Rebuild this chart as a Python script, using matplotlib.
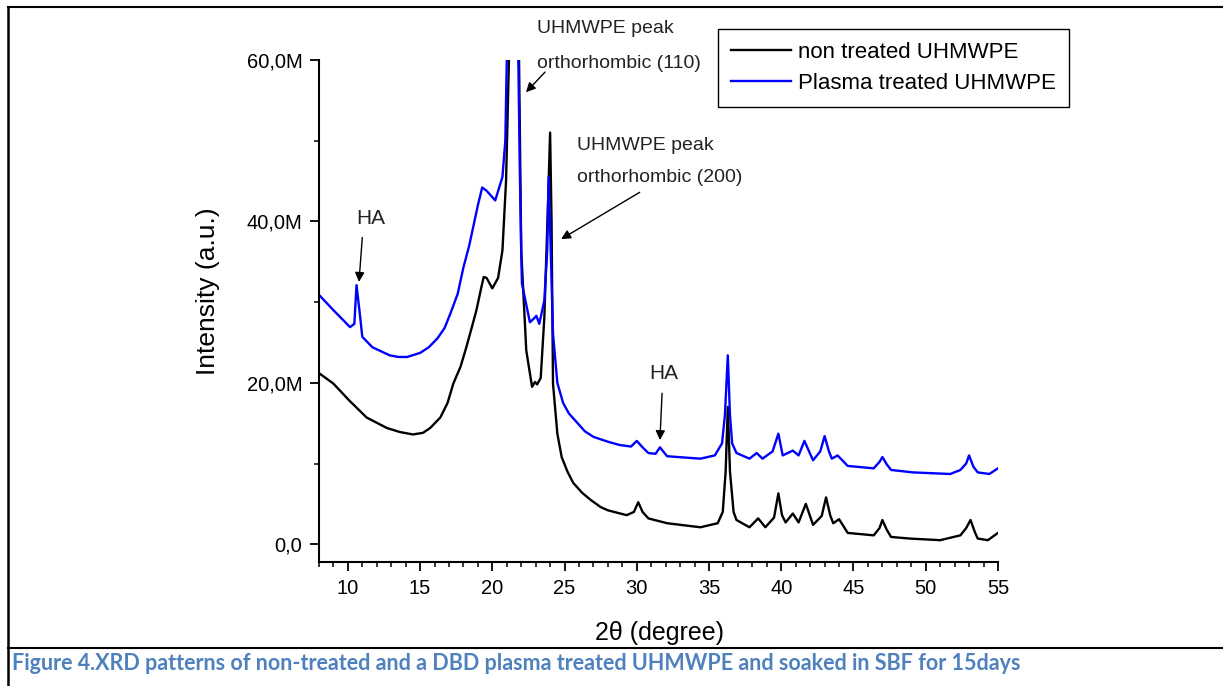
import matplotlib
matplotlib.use("Agg")
import numpy as np
from matplotlib import pyplot as plt
from matplotlib.lines import Line2D
from matplotlib.ticker import FuncFormatter, MultipleLocator, FixedLocator

plt.rcParams["font.family"] = ["Liberation Sans", "DejaVu Sans"]

# 2theta (degree) and intensity (millions of counts)
untreated_x = [8, 9, 10.1, 11.3, 12.7, 13.6, 14.5, 15.2, 15.7, 16.4, 16.9, 17.3, 17.8, 18.2,
               18.6, 18.9, 19.2, 19.4, 19.6, 20.0, 20.4, 20.7, 20.95, 21.15, 21.5, 21.85,
               22.0, 22.35, 22.75, 22.95, 23.1, 23.35, 23.6, 23.85, 24.0, 24.1, 24.2, 24.5,
               24.8, 25.2, 25.6, 26.2, 26.8, 27.5, 28.0, 29.3, 29.8, 30.1, 30.4, 30.8,
               32.1, 34.4, 35.6, 35.95, 36.15, 36.3, 36.45, 36.7, 36.9, 37.8, 38.4, 38.9,
               39.5, 39.8, 40.05, 40.3, 40.8, 41.2, 41.7, 42.2, 42.8, 43.1, 43.4, 43.6,
               44.0, 44.6, 46.4, 46.8, 47.0, 47.3, 47.6, 48.9, 51.0, 52.4, 52.8, 53.1,
               53.4, 53.6, 54.3, 55.0]
untreated_y = [21.2, 19.9, 17.8, 15.7, 14.4, 13.9, 13.6, 13.8, 14.4, 15.7, 17.5, 19.9, 22.0,
               24.4, 27.0, 29.0, 31.5, 33.1, 33.0, 31.7, 33.0, 36.4, 45.0, 60.0, 78.0,
               60.0, 36.4, 24.0, 19.5, 20.1, 19.8, 20.6, 28.1, 42.0, 51.0, 40.0, 19.9,
               13.7, 10.8, 9.0, 7.6, 6.4, 5.5, 4.6, 4.2, 3.6, 4.0, 5.2, 4.0, 3.2,
               2.6, 2.1, 2.6, 4.0, 9.0, 17.0, 9.0, 4.0, 3.0, 2.1, 3.2, 2.1,
               3.3, 6.3, 3.6, 2.7, 3.8, 2.7, 5.0, 2.4, 3.5, 5.8, 3.5, 2.6,
               3.1, 1.4, 1.1, 2.0, 3.0, 1.8, 0.9, 0.7, 0.5, 1.1, 2.0, 3.0,
               1.5, 0.7, 0.5, 1.4]

plasma_x = [8, 9.0, 10.15, 10.45, 10.6, 10.8, 11.0, 11.7, 12.9, 13.5, 14.1, 15.0, 15.6,
            16.2, 16.7, 17.1, 17.6, 18.0, 18.4, 18.7, 19.0, 19.3, 19.6, 20.2, 20.7,
            20.9, 21.0, 21.4, 21.8, 21.9, 22.0, 22.05, 22.6, 22.9, 23.05, 23.25, 23.6,
            23.8, 23.9, 24.05, 24.2, 24.5, 24.9, 25.3, 25.9, 26.4, 27.0, 28.0, 28.8,
            29.6, 30.0, 30.4, 30.8, 31.3, 31.6, 32.1, 34.4, 35.4, 35.9, 36.1, 36.3,
            36.45, 36.6, 36.9, 37.8, 38.3, 38.7, 39.4, 39.8, 40.1, 40.8, 41.2, 41.6,
            42.2, 42.7, 43.0, 43.3, 43.5, 43.9, 44.6, 46.4, 46.8, 47.0, 47.3, 47.6,
            49.1, 51.7, 52.4, 52.8, 53.0, 53.3, 53.6, 54.4, 55.0]
plasma_y = [30.9, 29.0, 26.9, 27.3, 32.1, 29.0, 25.7, 24.4, 23.4, 23.2, 23.2, 23.7, 24.4,
            25.5, 26.8, 28.6, 31.0, 34.3, 37.0, 39.5, 42.0, 44.2, 43.8, 42.6, 45.5,
            50.0, 60.0, 80.0, 60.0, 46.7, 36.4, 32.3, 27.5, 28.0, 28.3, 27.3, 30.2,
            36.4, 45.5, 36.0, 26.1, 20.0, 17.5, 16.2, 15.0, 14.0, 13.3, 12.7, 12.3,
            12.1, 12.8, 12.0, 11.3, 11.2, 12.0, 10.9, 10.6, 11.0, 12.5, 16.0, 23.4,
            16.0, 12.5, 11.3, 10.6, 11.3, 10.6, 11.5, 13.7, 11.0, 11.6, 11.0, 12.8,
            10.4, 11.5, 13.4, 11.5, 10.6, 11.0, 9.7, 9.4, 10.2, 10.8, 9.9, 9.2,
            8.9, 8.7, 9.2, 10.0, 11.0, 9.6, 8.9, 8.7, 9.4]

x_major = [10, 15, 20, 25, 30, 35, 40, 45, 50, 55]
y_major = [0, 20, 40, 60]
y_minor = [10, 30, 50]


def fmt_intensity(v, pos):
    if v == 0:
        return "0,0"
    return f"{v:.1f}M".replace(".", ",")


fig = plt.figure(figsize=(12.23, 6.86), dpi=100)
ax = fig.add_axes([0.2608, 0.1808, 0.5552, 0.7318])

ax.plot(untreated_x, untreated_y, color="black", lw=1.7, label="non treated UHMWPE")
ax.plot(plasma_x, plasma_y, color="#0000ff", lw=1.7, label="Plasma treated UHMWPE")

ax.set_xlim(8, 55)
ax.set_ylim(-2.2, 60)
ax.xaxis.set_major_locator(FixedLocator(x_major))
ax.xaxis.set_minor_locator(MultipleLocator(1))
ax.yaxis.set_major_locator(FixedLocator(y_major))
ax.yaxis.set_minor_locator(FixedLocator(y_minor))
ax.yaxis.set_major_formatter(FuncFormatter(fmt_intensity))

for side in ("top", "right"):
    ax.spines[side].set_visible(False)
for side in ("left", "bottom"):
    ax.spines[side].set_linewidth(1.5)
ax.tick_params(which="major", direction="out", length=6.5, width=1.3, labelsize=14.5, pad=5.5)
ax.tick_params(which="minor", direction="out", length=3.8, width=1.1)

ax.set_ylabel("Intensity (a.u.)", fontsize=19, va="center")
ax.yaxis.set_label_coords(-0.163, 0.54)
ax.set_xlabel("2θ (degree)", fontsize=18, va="center")
ax.xaxis.set_label_coords(0.502, -0.1414)

txt = "#222222"
ax.text(23.1, 63.9, "UHMWPE peak", fontsize=14, color=txt, va="center")
ax.text(23.1, 59.6, "orthorhombic (110)", fontsize=14, color=txt, va="center")
ax.text(25.87, 49.4, "UHMWPE peak", fontsize=14, color=txt, va="center")
ax.text(25.87, 45.4, "orthorhombic (200)", fontsize=14, color=txt, va="center")
ax.text(11.6, 40.3, "HA", fontsize=15, color=txt, ha="center", va="center")
ax.text(31.9, 21.2, "HA", fontsize=15, color=txt, ha="center", va="center")

arrow = dict(arrowstyle="-|>", color="black", lw=1.0, mutation_scale=14, shrinkA=0, shrinkB=0)
ax.annotate("", xy=(10.77, 32.5), xytext=(11.0, 38.0), arrowprops=arrow)
ax.annotate("", xy=(31.6, 12.9), xytext=(31.75, 18.7), arrowprops=arrow)
ax.annotate("", xy=(22.33, 56.0), xytext=(23.65, 58.5), arrowprops=arrow, annotation_clip=False)
ax.annotate("", xy=(24.76, 37.8), xytext=(30.2, 43.6), arrowprops=arrow)

leg = ax.legend(loc="upper left", bbox_to_anchor=(0.587, 0.958), bbox_transform=fig.transFigure,
                fontsize=16, frameon=True, fancybox=False, edgecolor="black", framealpha=1,
                handlelength=2.7, handletextpad=0.3, labelspacing=0.45, borderpad=0.6,
                borderaxespad=0)
leg.get_frame().set_linewidth(1.0)

# page frame and caption
fig.add_artist(Line2D([0.0065, 1.0], [0.9898, 0.9898], color="black", lw=1.5))
fig.add_artist(Line2D([0.0065, 0.0065], [0.0, 0.9898], color="black", lw=1.8))
fig.add_artist(Line2D([0.0065, 1.0], [0.0554, 0.0554], color="black", lw=1.5))
fig.text(0.0098, 0.0335, "Figure 4.XRD patterns of non-treated and a DBD plasma treated UHMWPE "
         "and soaked in SBF for 15days", fontsize=15.5, fontweight="bold", color="#4f81bd",
         family=["Lato", "DejaVu Sans"], va="center")

fig.savefig("out.png", dpi=100)
